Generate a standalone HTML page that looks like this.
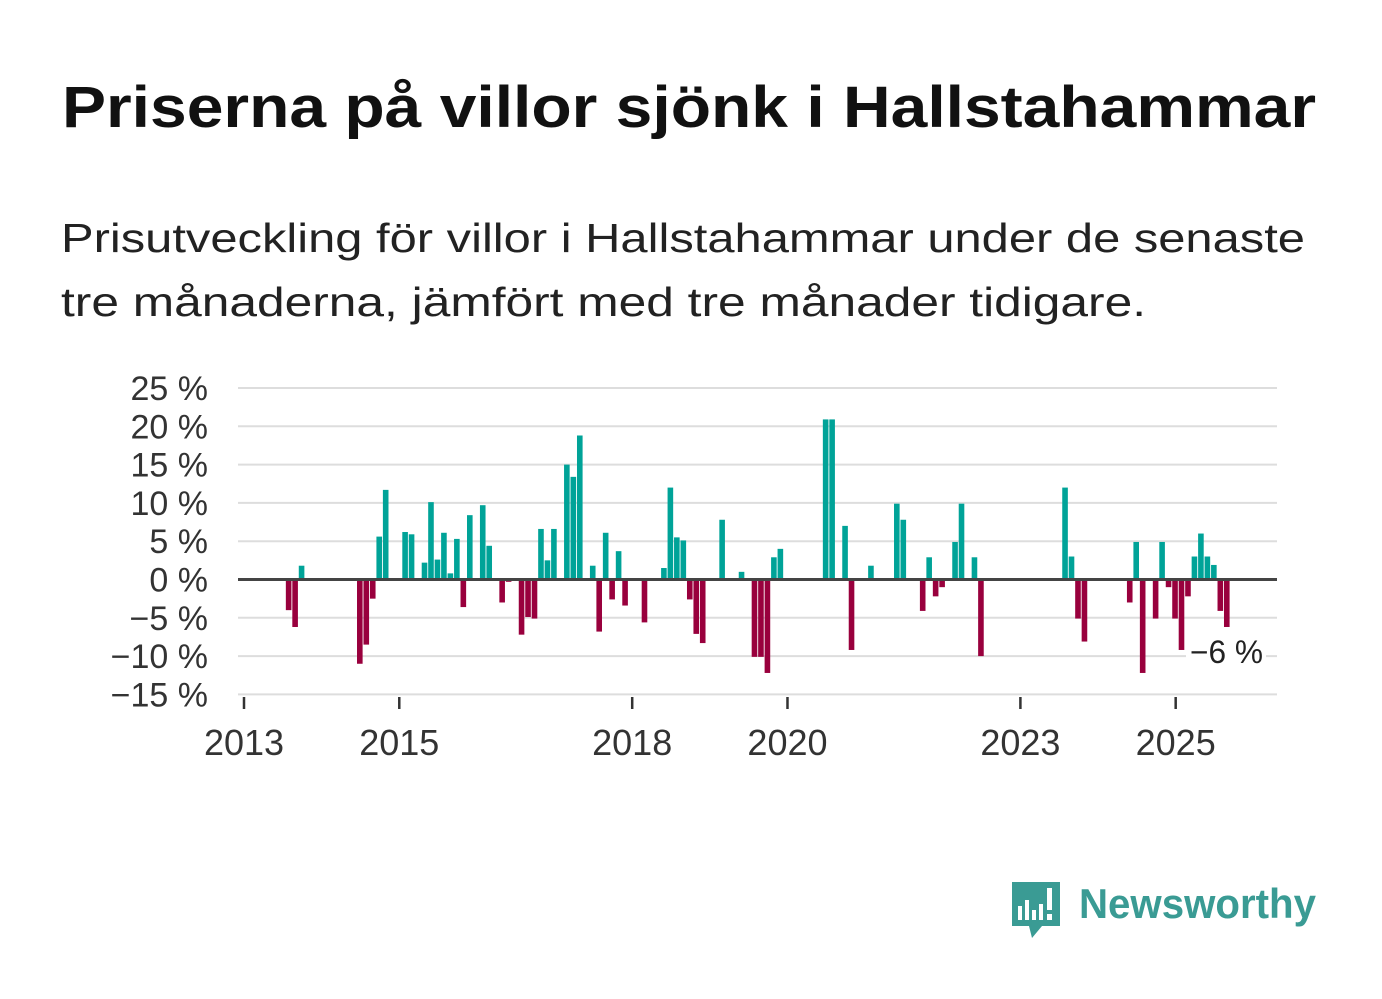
<!DOCTYPE html>
<html><head><meta charset="utf-8"><style>
html,body{margin:0;padding:0;background:#fff;}
svg{display:block;font-family:"Liberation Sans",sans-serif;}
</style></head><body>
<svg id="chart" width="1382" height="999" viewBox="0 0 1382 999" xmlns="http://www.w3.org/2000/svg">
<text x="62" y="127" font-size="58" font-weight="bold" fill="#111" textLength="1254" lengthAdjust="spacingAndGlyphs">Priserna på villor sjönk i Hallstahammar</text>
<text x="61" y="252" font-size="41" fill="#222" textLength="1244" lengthAdjust="spacingAndGlyphs">Prisutveckling för villor i Hallstahammar under de senaste</text>
<text x="61" y="316" font-size="41" fill="#222" textLength="1085" lengthAdjust="spacingAndGlyphs">tre månaderna, jämfört med tre månader tidigare.</text>
<g id="grid"></g>
<g id="yaxis"></g>
<g id="bars"></g>
<line x1="238" x2="1277" y1="579.5" y2="579.5" stroke="#444" stroke-width="3"/>
<g id="xaxis"></g>
<g>
<rect x="1186" y="636" width="80" height="34" fill="#fff"/>
<text x="1190" y="663" font-size="32" fill="#222" textLength="73" lengthAdjust="spacingAndGlyphs">−6 %</text>
</g>
<g>
<path d="M1012 882 h48 v44 h-18 l-10 12 l-3 -12 h-17 z" fill="#3a9b94"/>
<rect x="1018" y="906" width="4" height="14" fill="#fff"/>
<rect x="1025" y="900" width="4" height="20" fill="#fff"/>
<rect x="1032" y="910" width="4" height="10" fill="#fff"/>
<rect x="1039" y="904" width="4" height="16" fill="#fff"/>
<rect x="1047" y="888" width="5" height="22" fill="#fff"/>
<rect x="1047" y="914" width="5" height="6" fill="#fff"/>
<text x="1079" y="918" font-size="42" font-weight="bold" fill="#3a9b94" textLength="237" lengthAdjust="spacingAndGlyphs">Newsworthy</text>
</g>
</svg>
<script>
// month index counted from Jan 2013
const months = [7,8,9,18,19,20,21,22,25,26,28,29,30,31,32,33,34,35,37,38,40,41,43,44,45,46,47,48,50,51,52,54,55,56,57,58,59,62,65,66,67,68,69,70,71,74,77,79,80,81,82,83,90,91,93,94,97,101,102,105,106,107,108,110,111,113,114,127,128,129,130,137,138,139,141,142,143,144,145,146,147,148,149,150,151,152];
const values = [-4,-6.2,1.8,-11,-8.5,-2.5,5.6,11.7,6.2,5.9,2.2,10.1,2.6,6.1,0.8,5.3,-3.6,8.4,9.7,4.4,-3,-0.3,-7.2,-4.9,-5.1,6.6,2.5,6.6,15,13.4,18.8,1.8,-6.8,6.1,-2.6,3.7,-3.4,-5.6,1.5,12,5.5,5.1,-2.6,-7.1,-8.3,7.8,1,-10.1,-10.1,-12.2,2.9,4,20.9,20.9,7,-9.2,1.8,9.9,7.8,-4.1,2.9,-2.2,-1,4.9,9.9,2.9,-10,12,3,-5.1,-8.1,-3,4.9,-12.2,-5.1,4.9,-1,-5.1,-9.2,-2.2,3,6,3,1.9,-4.1,-6.2];
const yTicks = [25,20,15,10,5,0,-5,-10,-15];
const yTickLabels = ["25 %","20 %","15 %","10 %","5 %","0 %","−5 %","−10 %","−15 %"];
const xTickYears = [2013,2015,2018,2020,2023,2025];

const NS = "http://www.w3.org/2000/svg";
function y(v){ return 579.5 - v*7.66; }
function x(m){ return 244 + m*6.47; }
function mk(tag, attrs, parent){ const e=document.createElementNS(NS,tag); for(const k in attrs) e.setAttribute(k,attrs[k]); parent.appendChild(e); return e; }

const grid=document.getElementById('grid'), ya=document.getElementById('yaxis'), bars=document.getElementById('bars'), xa=document.getElementById('xaxis');
yTicks.forEach((t,i)=>{
  if(t!==0){
    const l=mk('line',{x1:238,x2:1277,y1:y(t),y2:y(t),stroke:'#dddddd','stroke-width':2},grid);
    
    
  }
  const tx=mk('text',{x:208,y:y(t)+12,'font-size':34,fill:'#333','text-anchor':'end'},ya);
  tx.textContent=yTickLabels[i];
  
  
});
months.forEach((m,i)=>{
  const v=values[i];
  const h=Math.abs(y(v)-y(0));
  const r=mk('rect',{x:x(m)-0.65-2.8,y:v>=0?y(v):y(0),width:5.6,height:Math.max(h,1),fill:v>=0?'#00a398':'#99003d'},bars);
  
  
});
xTickYears.forEach(yr=>{
  const xx=x((yr-2013)*12);
  const tk=mk('line',{x1:xx,x2:xx,y1:697,y2:709,stroke:'#333','stroke-width':2.5},xa);
  
  
  const tx=mk('text',{x:xx,y:755,'font-size':36,fill:'#333','text-anchor':'middle'},xa);
  tx.textContent=yr;
  
  
});
</script>
</body></html>
